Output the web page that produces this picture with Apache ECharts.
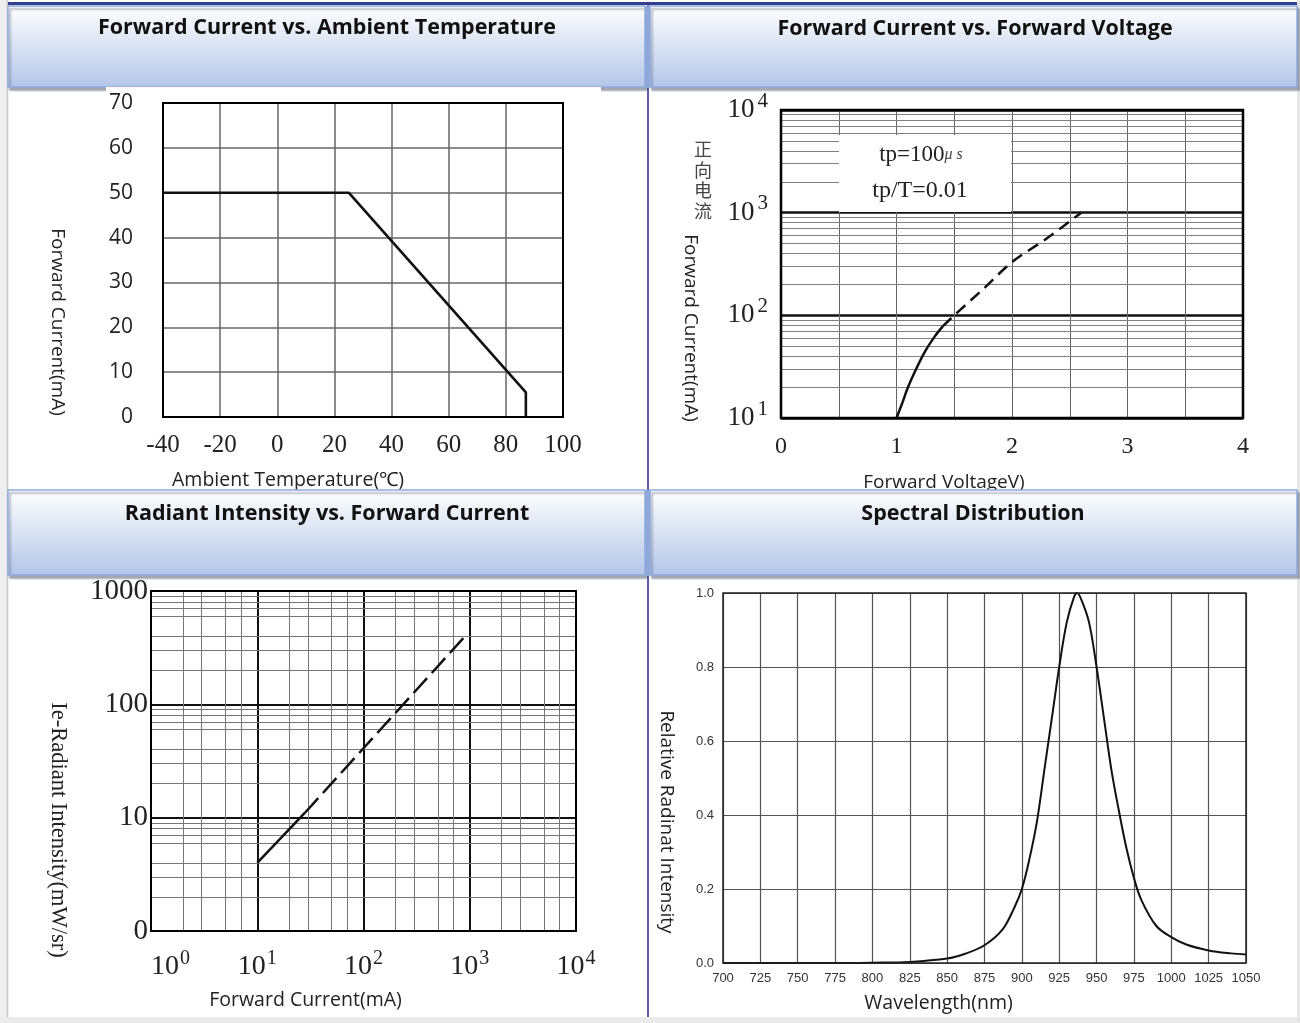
<!DOCTYPE html>
<html><head><meta charset="utf-8">
<script src="https://cdn.jsdelivr.net/npm/echarts@6/dist/echarts.min.js"></script>
<style>html,body{margin:0;padding:0;background:#fff}#c{width:1300px;height:1023px}</style>
</head><body><div id="c"></div>
<script>
// ---------- data ----------
// Chart 1: Forward Current vs Ambient Temperature
const tempC = [-40, 25, 87, 87];
const currentDerate = [50, 50, 5.5, 0];
const tempTicks = [-40, -20, 0, 20, 40, 60, 80, 100];
const currentTicks = [0, 10, 20, 30, 40, 50, 60, 70];

// Chart 2: Forward Current vs Forward Voltage
const vfSolid = [1.0, 1.05, 1.1, 1.17, 1.25, 1.33, 1.4];
const ifSolid = [10, 14, 20, 30, 45, 62, 78];
const vfDash = [1.4, 1.5, 1.75, 2.0, 2.3, 2.6];
const ifDash = [78, 100, 180, 330, 560, 1000];
const vfTicks = [0, 1, 2, 3, 4];
const ifDecades = [10, 100, 1000, 10000];
const logMinorMults = [2, 3, 4, 5, 6, 7, 8, 9];

// Chart 3: Radiant Intensity vs Forward Current
const ieSolidIf = [10, 28];
const ieSolidIe = [4, 11];
const ieDashIf = [28, 100, 950];
const ieDashIe = [11, 41, 420];
const ifLogDecades = [1, 10, 100, 1000, 10000];
const ieDecades = [1, 10, 100, 1000];
const ieTickLabels = ['0', '10', '100', '1000'];
const ifMinorMults = [2, 3, 5, 7];
const ieMinorMults = [2, 3, 4, 6, 7, 8, 9];

// Chart 4: Spectral Distribution
const waveNm = [700, 725, 750, 775, 800, 825, 850, 862, 875, 887, 895, 900, 905, 910, 915, 920, 925, 930, 935, 937, 940, 945, 950, 955, 960, 965, 970, 975, 980, 990, 1000, 1010, 1025, 1040, 1050];
const relIntensity = [0, 0, 0, 0, 0.001, 0.003, 0.012, 0.025, 0.048, 0.09, 0.15, 0.2, 0.28, 0.38, 0.52, 0.66, 0.8, 0.92, 0.99, 1.0, 0.98, 0.92, 0.8, 0.66, 0.52, 0.41, 0.31, 0.23, 0.17, 0.1, 0.07, 0.05, 0.034, 0.026, 0.023];

const titles = ['Forward Current vs. Ambient Temperature', 'Forward Current vs. Forward Voltage', 'Radiant Intensity vs. Forward Current', 'Spectral Distribution'];

// ---------- helpers ----------
const pairs = (xs, ys) => xs.map((x, i) => [x, ys[i]]);
const minorVals = (mults, decades) => decades.flatMap(d => mults.map(m => m * d));
const sup = v => '{b|10}{s|' + Math.round(Math.log10(v)) + '}';
const SANS = 'Open Sans';
const SERIF = 'Liberation Serif';

const headerFill = new echarts.graphic.LinearGradient(0, 0, 0, 1, [
  { offset: 0, color: '#ffffff' }, { offset: 1, color: '#b3c5e7' }
]);
function header(x, y, w, h) {
  return { type: 'rect', z: 100, shape: { x, y, width: w, height: h },
    style: { fill: headerFill, stroke: '#8eaadc', lineWidth: 1.5,
      shadowColor: 'rgba(60,70,100,0.45)', shadowOffsetX: 2, shadowOffsetY: 3, shadowBlur: 2 } };
}
function title(text, cx, cy) {
  return { type: 'text', z: 102, x: cx, y: cy,
    style: { text, fontFamily: SANS, fontWeight: 'bold', fontSize: 21.5, fill: '#111', align: 'center', verticalAlign: 'middle' } };
}

const chart = echarts.init(document.getElementById('c'));
const option = {
  animation: false,
  backgroundColor: '#ffffff',
  graphic: [
    { type: 'rect', z: 90, shape: { x: 0, y: 0, width: 7, height: 1023 }, style: { fill: '#eeeeee' } },
    { type: 'line', z: 90, shape: { x1: 7.5, y1: 0, x2: 7.5, y2: 1023 }, style: { stroke: '#c8c8c8', lineWidth: 1.5 } },
    { type: 'rect', z: 90, shape: { x: 0, y: 1017, width: 1300, height: 6 }, style: { fill: '#ebebeb' } },
    { type: 'rect', z: 90, shape: { x: 1297, y: 0, width: 3, height: 1023 }, style: { fill: '#e6e6e6' } },
    { type: 'line', z: 90, shape: { x1: 648, y1: 5, x2: 648, y2: 1017 }, style: { stroke: '#5d60ad', lineWidth: 2 } },
    header(8, 6, 637, 81),
    header(650, 6, 647, 81),
    header(8, 490, 637, 85),
    header(650, 490, 647, 85),
    { type: 'rect', z: 101, shape: { x: 645, y: 6, width: 5, height: 82 }, style: { fill: '#8ea8da' } },
    { type: 'rect', z: 101, shape: { x: 645, y: 490, width: 5, height: 86 }, style: { fill: '#8ea8da' } },
    { type: 'rect', z: 101, shape: { x: 8, y: 2, width: 1289, height: 3 }, style: { fill: '#33408f' } },
    { type: 'rect', z: 103, shape: { x: 106, y: 87, width: 495, height: 6 }, style: { fill: '#ffffff' } },
    title(titles[0], 327, 28),
    title(titles[1], 975, 29),
    title(titles[2], 327, 514),
    title(titles[3], 973, 514),
    // legend note box in chart 2
    { type: 'rect', z: 20, shape: { x: 839, y: 135, width: 172, height: 77 }, style: { fill: '#ffffff' } },
    { type: 'text', z: 21, x: 921, y: 155, style: { text: 'tp=100{u|μ s}', fontFamily: SERIF, fontSize: 23, fill: '#222', align: 'center', verticalAlign: 'middle',
        rich: { u: { fontFamily: SERIF, fontSize: 16, fontStyle: 'italic', fill: '#444' } } } },
    { type: 'text', z: 21, x: 920, y: 191, style: { text: 'tp/T=0.01', fontFamily: SERIF, fontSize: 24, fill: '#222', align: 'center', verticalAlign: 'middle' } },
    { type: 'text', z: 21, x: 703, y: 180, style: { text: '正\n向\n电\n流', fontFamily: 'Noto Sans CJK SC', fontSize: 18, lineHeight: 20.5, fill: '#444', align: 'center', verticalAlign: 'middle' } }
  ],
  grid: [
    { left: 163, top: 103, width: 400, height: 314, show: true, borderColor: '#000', borderWidth: 2, z: 10 },
    { left: 781, top: 110, width: 462, height: 308, show: true, borderColor: '#000', borderWidth: 2.5, z: 10 },
    { left: 151, top: 591, width: 425, height: 340, show: true, borderColor: '#000', borderWidth: 2, z: 10 },
    { left: 723, top: 593, width: 523, height: 370, show: true, borderColor: '#222', borderWidth: 1.5, z: 10 }
  ],
  xAxis: [
    { gridIndex: 0, type: 'value', min: tempTicks[0], max: tempTicks[tempTicks.length - 1], interval: 20,
      axisLine: { show: false }, axisTick: { show: false },
      splitLine: { lineStyle: { color: '#666', width: 1.5 } },
      axisLabel: { fontFamily: SERIF, fontSize: 25, color: '#222', margin: 16 },
      name: 'Ambient Temperature(℃)', nameLocation: 'middle', nameGap: 53,
      nameTextStyle: { fontFamily: SANS, fontSize: 19.5, color: '#222', padding: [0, 150, 0, 0] } },
    { gridIndex: 1, type: 'value', min: vfTicks[0], max: vfTicks[vfTicks.length - 1], interval: 0.5,
      axisLine: { show: false }, axisTick: { show: false },
      splitLine: { lineStyle: { color: '#666', width: 1 } },
      axisLabel: { fontFamily: SERIF, fontSize: 24, color: '#222', margin: 17,
        formatter: v => vfTicks.includes(v) ? String(v) : '' },
      name: 'Forward VoltageV)', nameLocation: 'middle', nameGap: 55,
      nameTextStyle: { fontFamily: SANS, fontSize: 19, color: '#222', padding: [0, 136, 0, 0] } },
    { gridIndex: 2, type: 'log', logBase: 10, min: ifLogDecades[0], max: ifLogDecades[ifLogDecades.length - 1],
      axisLine: { show: false }, axisTick: { show: false },
      splitLine: { lineStyle: { color: '#111', width: 2 } },
      axisLabel: { margin: 18, formatter: sup, alignMinLabel: 'left',
        rich: { b: { fontFamily: SERIF, fontSize: 28, color: '#222' }, s: { fontFamily: SERIF, fontSize: 20, color: '#222', padding: [0, 0, 16, 1] } } },
      name: 'Forward Current(mA)', nameLocation: 'middle', nameGap: 59,
      nameTextStyle: { fontFamily: SANS, fontSize: 19.5, color: '#222', padding: [0, 116, 0, 0] } },
    { gridIndex: 3, type: 'value', min: waveNm[0], max: waveNm[waveNm.length - 1], interval: 25,
      axisLine: { show: false }, axisTick: { show: false },
      splitLine: { lineStyle: { color: '#555', width: 1.2 } },
      axisLabel: { fontFamily: 'Liberation Sans', fontSize: 13, color: '#333', margin: 9, formatter: v => String(v) },
      name: 'Wavelength(nm)', nameLocation: 'middle', nameGap: 30,
      nameTextStyle: { fontFamily: SANS, fontSize: 19.5, color: '#222', padding: [0, 92, 0, 0] } }
  ],
  yAxis: [
    { gridIndex: 0, type: 'value', min: currentTicks[0], max: currentTicks[currentTicks.length - 1], interval: 10,
      axisLine: { show: false }, axisTick: { show: false },
      splitLine: { lineStyle: { color: '#666', width: 1.5 } },
      axisLabel: { fontFamily: SANS, fontSize: 21, color: '#222', margin: 30 },
      name: 'Forward Current(mA)', nameLocation: 'middle', nameGap: 96, nameRotate: -90,
      nameTextStyle: { fontFamily: SANS, fontSize: 19, color: '#222', padding: [0, 0, 0, 124] } },
    { gridIndex: 1, type: 'log', logBase: 10, min: ifDecades[0], max: ifDecades[ifDecades.length - 1],
      axisLine: { show: false }, axisTick: { show: false },
      splitLine: { lineStyle: { color: '#111', width: 2.5 } },
      axisLabel: { margin: 13, formatter: sup,
        rich: { b: { fontFamily: SERIF, fontSize: 27, color: '#222' }, s: { fontFamily: SERIF, fontSize: 21, color: '#222', padding: [0, 0, 18, 3] } } },
      name: 'Forward Current(mA)', nameLocation: 'middle', nameGap: 81, nameRotate: -90,
      nameTextStyle: { fontFamily: SANS, fontSize: 19, color: '#222', padding: [0, 0, 0, 128] } },
    { gridIndex: 2, type: 'log', logBase: 10, min: ieDecades[0], max: ieDecades[ieDecades.length - 1],
      axisLine: { show: false }, axisTick: { show: false },
      splitLine: { lineStyle: { color: '#111', width: 2 } },
      axisLabel: { fontFamily: SERIF, fontSize: 29, color: '#222', margin: 3,
        formatter: v => ieTickLabels[ieDecades.indexOf(Math.round(v))] ?? '' },
      name: 'Ie-Radiant Intensity(mW/sr)', nameLocation: 'middle', nameGap: 82, nameRotate: -90,
      nameTextStyle: { fontFamily: SERIF, fontSize: 22.5, color: '#222', padding: [0, 0, 0, 138] } },
    { gridIndex: 3, type: 'value', min: 0, max: 1, interval: 0.2,
      axisLine: { show: false }, axisTick: { show: false },
      splitLine: { lineStyle: { color: '#555', width: 1.2 } },
      axisLabel: { fontFamily: 'Liberation Sans', fontSize: 13, color: '#333', margin: 9, formatter: v => v.toFixed(1) },
      name: 'Relative Radinat Intensity', nameLocation: 'middle', nameGap: 47, nameRotate: -90,
      nameTextStyle: { fontFamily: SANS, fontSize: 19, color: '#222', padding: [0, 0, 0, 88] } }
  ],
  series: [
    { type: 'line', xAxisIndex: 0, yAxisIndex: 0, z: 5, data: pairs(tempC, currentDerate), symbol: 'none',
      lineStyle: { color: '#111', width: 2.6 } },
    { type: 'line', xAxisIndex: 1, yAxisIndex: 1, z: 1, data: [], symbol: 'none',
      markLine: { silent: true, symbol: ['none', 'none'], label: { show: false },
        lineStyle: { color: '#808080', width: 1, type: 'solid' },
        data: minorVals(logMinorMults, ifDecades.slice(0, -1)).map(v => ({ yAxis: v })) } },
    { type: 'line', xAxisIndex: 1, yAxisIndex: 1, z: 5, data: pairs(vfSolid, ifSolid), symbol: 'none', smooth: 0.3,
      lineStyle: { color: '#111', width: 2.5 } },
    { type: 'line', xAxisIndex: 1, yAxisIndex: 1, z: 5, data: pairs(vfDash, ifDash), symbol: 'none', smooth: 0.3,
      lineStyle: { color: '#111', width: 2.5, type: [12, 7] } },
    { type: 'line', xAxisIndex: 2, yAxisIndex: 2, z: 1, data: [], symbol: 'none',
      markLine: { silent: true, symbol: ['none', 'none'], label: { show: false },
        lineStyle: { color: '#777', width: 1, type: 'solid' },
        data: minorVals(ifMinorMults, ifLogDecades.slice(0, -1)).map(v => ({ xAxis: v }))
          .concat(minorVals(ieMinorMults, ieDecades.slice(0, -1)).map(v => ({ yAxis: v }))) } },
    { type: 'line', xAxisIndex: 2, yAxisIndex: 2, z: 5, data: pairs(ieSolidIf, ieSolidIe), symbol: 'none',
      lineStyle: { color: '#111', width: 2.5 } },
    { type: 'line', xAxisIndex: 2, yAxisIndex: 2, z: 5, data: pairs(ieDashIf, ieDashIe), symbol: 'none',
      lineStyle: { color: '#111', width: 2.5, type: [20, 7] } },
    { type: 'line', xAxisIndex: 3, yAxisIndex: 3, z: 5, data: pairs(waveNm, relIntensity), symbol: 'none', smooth: 0.35,
      lineStyle: { color: '#111', width: 2 } }
  ]
};
chart.setOption(option);
</script>
</body></html>
